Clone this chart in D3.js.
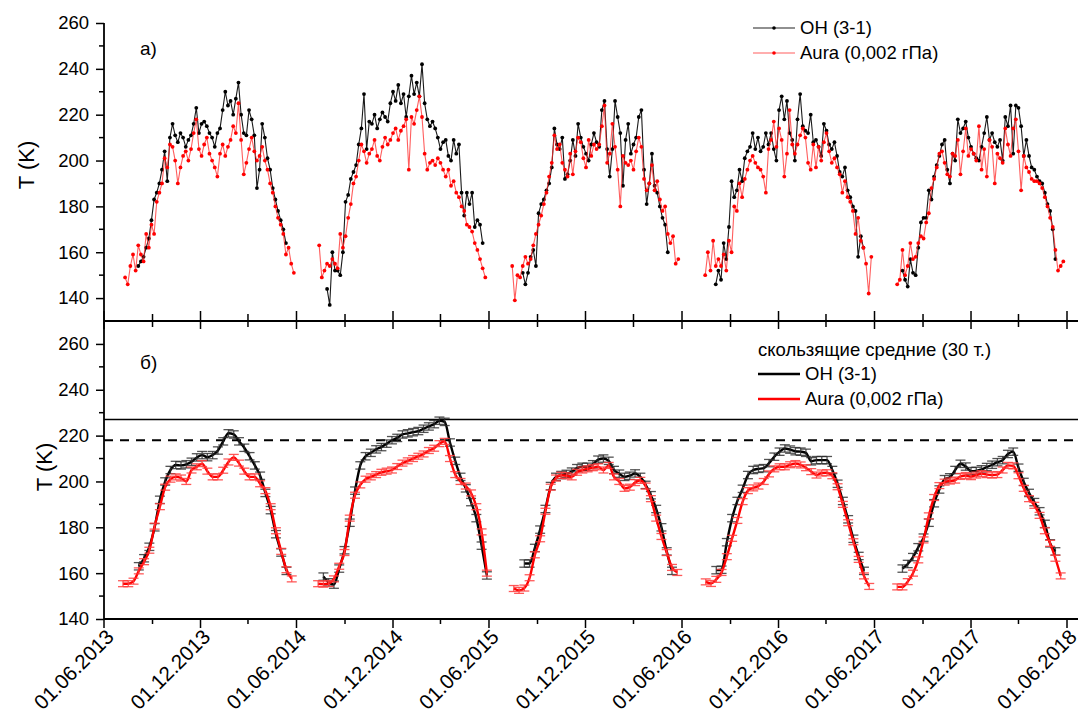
<!DOCTYPE html>
<html>
<head>
<meta charset="utf-8">
<script src="https://cdn.jsdelivr.net/npm/d3@7.9.0/dist/d3.min.js"></script>
<style>
  body { margin: 0; background: #fff; }
  text { font-family: "Liberation Sans", Arial, sans-serif; fill: #000; }
</style>
</head>
<body>
<svg id="chart" width="1080" height="713"></svg>
<script>
// x axis labels (dd.mm.yyyy)
const majorTickLabels = ["01.06.2013", "01.12.2013", "01.06.2014", "01.12.2014", "01.06.2015",
    "01.12.2015", "01.06.2016", "01.12.2016", "01.06.2017", "01.12.2017", "01.06.2018"];
const yTicks = [140, 160, 180, 200, 220, 240, 260];

// panel a): daily series sampled every 5 days, one array per season
const stepA = 5;
const seasonStartA = ["2013-07-11", "2014-07-14", "2015-07-15", "2016-07-15", "2017-07-14"];
const ohA1 = [null, null, null, null, null, 154, 156, 158, 162, 166, 174, 183, 186, 190, 196, 204, 191, 210, 216, 211,
    208, 212, 210, 206, 209, 211, 216, 223, 212, 216, 217, 215, 212, 210, 206, 212, 214, 222, 230, 224,
    226, 220, 227, 234, 220, 212, 211, 222, 218, 211, 188, 196, 216, 210, 201, 196, 188, 183, 178, 174,
    170, 164, null, null, null];
const auraA1 = [149, 146, 154, 159, 152, 163, 159, 156, 168, 162, 172, 168, 182, 186, 190, 201, 197, 207, 206, 200,
    190, 197, 202, 204, 200, 205, 212, 218, 205, 202, 207, 210, 203, 200, 197, 193, 203, 207, 202, 206,
    209, 215, 212, 225, 209, 194, 199, 205, 210, 204, 200, 202, 206, 200, 196, 190, 186, 180, 175, 172,
    168, 159, 162, 155, 151];
const ohA2 = [null, null, null, 144, 137, 160, 152, 152, 150, 160, 182, 185, 192, 195, 198, 207, 214, 229, 205, 217,
    216, 220, 214, 218, 221, 219, 217, 225, 230, 226, 233, 225, 229, 219, 228, 237, 229, 234, 228, 242,
    225, 218, 215, 217, 214, 210, 205, 208, 209, 202, 200, 209, 203, 207, 186, 176, 186, 181, 186, 171,
    174, 172, 164, null];
const auraA2 = [163, 149, 152, 155, 154, 157, 155, 153, 168, 162, 167, 175, 181, 190, 193, 200, 207, 204, 199, 203,
    205, 209, 202, 200, 206, 210, 207, 209, 212, 214, 209, 213, 215, 218, 196, 219, 216, 222, 228, 219,
    203, 196, 199, 200, 198, 201, 199, 196, 193, 196, 189, 191, 186, 184, 180, 178, 172, 171, 169, 164,
    161, 157, 153, 149];
const ohA3 = [null, null, null, null, 151, 146, 151, 158, 161, 154, 177, 181, 183, 187, 190, 197, 214, 207, 205, 210,
    192, 194, 200, 209, 202, 216, 210, 206, 203, 200, 207, 212, 208, 206, 222, 226, 205, 193, 205, 226,
    219, 212, 189, 209, 216, 203, 207, 210, 219, 222, 196, 181, 190, 203, 189, 186, 180, 175, 172, 160,
    null, null, null, null];
const auraA3 = [154, 139, 150, 149, 154, 158, 155, 157, 163, 168, 172, 176, 181, 186, 193, 199, 211, 205, 207, 199,
    196, 193, 203, 194, 204, 210, 208, 201, 197, 209, 202, 207, 205, 207, 215, 224, 199, 203, 216, 206,
    196, 180, 202, 199, 198, 200, 196, 204, 210, 206, 192, 187, 190, 198, 187, 191, 183, 178, 180, 168,
    164, 167, 155, 157];
const ohA4 = [null, null, null, null, 146, 152, 148, 164, 157, 171, 191, 184, 187, 196, 191, 201, 204, 206, 212, 205,
    210, 204, 206, 212, 207, 212, 205, 200, 222, 228, 218, 226, 212, 209, 200, 218, 229, 215, 213, 212,
    220, 208, 209, 206, 202, 216, 213, 207, 205, 208, 202, 195, 193, 197, 187, 184, 180, 178, 158, 167,
    162, null, null, null];
const auraA4 = [150, 160, 152, 165, 154, 157, 154, 159, 152, 165, 160, 180, 178, 190, 184, 192, 196, 200, 202, 199,
    197, 196, 193, 186, 205, 209, 217, 206, 214, 209, 193, 203, 222, 207, 203, 207, 211, 214, 210, 199,
    196, 207, 197, 206, 200, 208, 212, 204, 199, 201, 197, 194, 186, 191, 184, 182, 178, 168, 175, 165,
    162, 155, 142, 158];
const ohA5 = [null, null, 152, 148, 145, 157, 151, 150, 162, 173, 175, 175, 187, 183, 193, 198, 202, 207, 209, 196,
    190, 203, 200, 218, 212, 214, 217, 210, 206, 203, 201, 200, 206, 212, 219, 209, 212, 208, 206, 209,
    200, 219, 215, 224, 203, 224, 223, 215, 202, 209, 202, 197, 196, 193, 191, 190, 186, 181, 178, 170,
    157, null, null, null];
const auraA5 = [146, 148, 161, 150, 154, 164, 157, 158, 164, 167, 166, 173, 177, 188, 192, 197, 203, 204, 199, 194,
    193, 203, 202, 209, 194, 204, 214, 202, 205, 203, 200, 215, 196, 205, 193, 209, 206, 190, 203, 201,
    199, 214, 207, 202, 214, 218, 204, 187, 202, 197, 195, 192, 191, 191, 190, 188, 184, 180, 175, 171,
    161, 152, 154, 156];

// panel б): 30-point running means, every 10 days
const stepB = 10;
const seasonStartB = ["2013-07-07", "2014-07-12", "2015-07-18", "2016-07-16", "2017-07-14"];
const ohB1 = [null, null, null, 163, 166.5, 171.5, 180, 192, 200, 205, 207.2, 207, 207.5, 208.6, 210.5, 211.5, 210.6,
    211.5, 213.5, 217.5, 221, 220.5, 217.5, 214.7, 211, 207, 202.5, 195, 187.5, 177, 169, 161, null];
const auraB1 = [155.4, 155.4, 156.5, 161, 165, 170, 180.5, 189, 197.5, 201, 202, 201.5, 200, 205, 206.4, 207.8, 204.5,
    202, 202, 204.9, 208.5, 210.5, 208, 204.5, 202, 202, 199, 196, 189, 178.5, 169.5, 161.5, 157.5];
const ohB2 = [null, 158.5, 156, 155, 162, 170, 182, 196, 207, 211, 212.5, 214, 215, 216.5, 218, 219, 220.5,
    221, 221.5, 222, 223, 224, 225, 226.5, 226, 217, 209, 202, 197, 191, 184, 172, 159];
const auraB2 = [155.4, 155.2, 155.5, 157.5, 163, 169, 184, 194, 198.5, 201, 202, 203, 204, 204.5, 205, 206.5, 208,
    209, 210, 211, 212, 213.5, 214.5, 216.5, 217.5, 210, 203, 200, 198, 195, 189, 178, 160];
const ohB3 = [null, null, 164.2, 164.2, 171, 179, 188, 198, 202, 202.8, 203.3, 204.3, 205.8, 206.4, 206.4, 207.5,
    209.5, 210, 209, 205, 203.4, 202, 202.5, 203.5, 202, 198.5, 194, 188, 180, 169.5, 161, null];
const auraB3 = [153.3, 152.5, 153.5, 158, 168, 175, 187, 197.5, 201.5, 202.7, 202.5, 202, 204, 205, 205.5, 206,
    206.4, 205, 207, 202, 200, 197, 197.5, 199.5, 200.5, 198, 192.5, 184, 176, 169, 162.5, 160.3];
const ohB4 = [null, null, 161.3, 161.5, 173.5, 184, 191.5, 196.8, 202.8, 205, 205.5, 205.8, 208, 210.8, 213, 214.4,
    213.9, 213.2, 213, 212.5, 208.8, 209.3, 209.3, 209.3, 205, 199, 191.5, 183.5, 175, 167.5, 161, null];
const auraB4 = [156.2, 155.5, 157.3, 160.3, 167.2, 175.2, 183, 191.2, 196, 197.2, 198, 200, 203.3, 205.5, 206.4,
    206.4, 207.3, 207.8, 207.2, 206, 204.3, 202.8, 203.7, 203.8, 202.5, 197.7, 190, 182, 173.7, 166, 158.8, 154.2];
const ohB5 = [null, 162, 164, 167, 171.3, 175.5, 182, 190.5, 196.5, 201, 201.8, 205, 207.7, 206.5, 204.5, 204.6,
    205.3, 206.3, 207.3, 208.4, 209.3, 212, 213, 206, 199.8, 195, 191, 187, 181.5, 173, 169.5, null];
const auraB5 = [154, 154, 156.3, 160, 165.8, 174.5, 185, 193, 198.2, 199.7, 200.2, 200.6, 202.2, 202.6, 202.1,
    202.8, 203.4, 203, 202.8, 203, 205, 207, 206.8, 202.5, 197, 192.5, 189.6, 185.2, 178.5, 173, 166.5, 158.8];
const ohErr = 1.6;
const auraErr = 1.3;

// reference levels in panel б)
const solidLevel = 227;
const dashedLevel = 218;

const svg = d3.select("#chart");
const parseLabel = d3.utcParse("%d.%m.%Y");
const parseIso = d3.utcParse("%Y-%m-%d");
const majorDates = majorTickLabels.map(parseLabel);

const left = 104, right = 1078;
const x = d3.scaleUtc().domain([majorDates[0], majorDates[majorDates.length - 1]]).range([104, 1067]);
const yTop = d3.scaleLinear().domain([130, 260]).range([321, 23]);
const yBot = d3.scaleLinear().domain([140, 270]).range([619, 321]);

function toPoints(values, start, step) {
    let t0 = parseIso(start);
    return values.map((v, i) => ({ date: d3.utcDay.offset(t0, i * step), v: v }));
}

const seasonsA = [[ohA1, auraA1], [ohA2, auraA2], [ohA3, auraA3], [ohA4, auraA4], [ohA5, auraA5]];
const seasonsB = [[ohB1, auraB1], [ohB2, auraB2], [ohB3, auraB3], [ohB4, auraB4], [ohB5, auraB5]];

// ---- panel a) ----
let gA = svg.append("g");
let lineA = d3.line().defined(d => d.v != null).x(d => x(d.date)).y(d => yTop(d.v));
[0, 1].forEach(k => {
    let lineCol = k === 0 ? "#1a1a1a" : "rgba(255,40,40,0.75)";
    let dotCol = k === 0 ? "#000" : "#ff0000";
    seasonsA.forEach((s, idx) => {
        let pts = toPoints(s[k], seasonStartA[idx], stepA);
        gA.append("path").attr("d", lineA(pts)).attr("fill", "none")
            .attr("stroke", lineCol).attr("stroke-width", 1.1);
        gA.selectAll(null).data(pts.filter(d => d.v != null)).join("circle")
            .attr("cx", d => x(d.date)).attr("cy", d => yTop(d.v))
            .attr("r", 1.9).attr("fill", dotCol);
    });
});

// ---- panel б) ----
let gB = svg.append("g");
gB.append("line").attr("x1", left).attr("x2", right)
    .attr("y1", yBot(solidLevel)).attr("y2", yBot(solidLevel))
    .attr("stroke", "#000").attr("stroke-width", 1.6);
gB.append("line").attr("x1", left).attr("x2", right)
    .attr("y1", yBot(dashedLevel)).attr("y2", yBot(dashedLevel))
    .attr("stroke", "#000").attr("stroke-width", 2).attr("stroke-dasharray", "9,7");

let lineB = d3.line().defined(d => d.v != null).x(d => x(d.date)).y(d => yBot(d.v)).curve(d3.curveMonotoneX);
[0, 1].forEach(k => {
    let col = k === 0 ? "#000" : "#ff0000";
    let barCol = k === 0 ? "rgba(40,40,40,0.8)" : "rgba(255,60,60,0.85)";
    let err = k === 0 ? ohErr : auraErr;
    seasonsB.forEach((s, idx) => {
        let pts = toPoints(s[k], seasonStartB[idx], stepB).filter(d => d.v != null);
        gB.append("path").attr("d", lineB(pts)).attr("fill", "none")
            .attr("stroke", col).attr("stroke-width", 2.4);
        let bars = gB.selectAll(null).data(pts).join("g")
            .attr("stroke", barCol).attr("stroke-width", 1.3);
        bars.append("line")
            .attr("x1", d => x(d.date)).attr("x2", d => x(d.date))
            .attr("y1", d => yBot(d.v - err)).attr("y2", d => yBot(d.v + err));
        [-err, err].forEach(e => {
            bars.append("line")
                .attr("x1", d => x(d.date) - 5).attr("x2", d => x(d.date) + 5)
                .attr("y1", d => yBot(d.v + e)).attr("y2", d => yBot(d.v + e));
        });
    });
});

// ---- axes ----
// quarter ticks starting 1 June (Jun, Sep, Dec, Mar)
const minorDates = d3.range(21).map(i => d3.utcMonth.offset(majorDates[0], 3 * i));
let axisG = svg.append("g").attr("font-size", 18.5);

function hLine(y) {
    axisG.append("line").attr("x1", left).attr("x2", right).attr("y1", y).attr("y2", y)
        .attr("stroke", "#000").attr("stroke-width", 1.8);
}
function xTicks(y, dir, major, minor) {
    axisG.append("g").selectAll("line").data(minorDates).join("line")
        .attr("x1", d => x(d)).attr("x2", d => x(d))
        .attr("y1", y).attr("y2", (d, i) => y + dir * (i % 2 === 0 ? major : minor))
        .attr("stroke", "#000").attr("stroke-width", 1.5);
}
hLine(321);
xTicks(321, -1, 10, 7);
xTicks(321, 1, 8, 6);
hLine(619);
xTicks(619, 1, 9, 5);

axisG.append("g").selectAll("text").data(majorDates).join("text")
    .attr("transform", d => `translate(${x(d) + 1},${628}) rotate(-45)`)
    .attr("text-anchor", "end").attr("dy", "0.7em").attr("font-size", 20.5)
    .text((d, i) => majorTickLabels[i]);

function yAxis(scale) {
    let g = axisG.append("g").attr("transform", `translate(${left},0)`);
    g.call(d3.axisLeft(scale).tickValues(yTicks).tickSize(8).tickPadding(7));
    g.attr("font-size", null).attr("font-family", null);
    g.select(".domain").remove();
    g.selectAll("text").attr("font-size", 18.5);
    g.selectAll("line").attr("stroke-width", 1.5);
    let minors = d3.range(150, 260, 20);
    g.selectAll(".minor").data(minors).join("line").attr("class", "minor")
        .attr("x1", 0).attr("x2", -5).attr("y1", d => scale(d)).attr("y2", d => scale(d))
        .attr("stroke", "#000").attr("stroke-width", 1.5);
    g.append("line").attr("x1", 0).attr("x2", 0)
        .attr("y1", scale.range()[0]).attr("y2", scale.range()[1])
        .attr("stroke", "#000").attr("stroke-width", 1.8);
}
yAxis(yTop);
yAxis(yBot);

// y titles
axisG.append("text").attr("transform", "translate(26,165) rotate(-90)")
    .attr("text-anchor", "middle").attr("dy", "0.35em").attr("font-size", 22).text("T (K)");
axisG.append("text").attr("transform", "translate(44,467) rotate(-90)")
    .attr("text-anchor", "middle").attr("dy", "0.35em").attr("font-size", 22).text("T (K)");

// panel letters
axisG.append("text").attr("x", 140).attr("y", 55).attr("font-size", 19).text("a)");
axisG.append("text").attr("x", 140).attr("y", 369).attr("font-size", 19).text("б)");

// ---- legends ----
let legA = svg.append("g").attr("font-size", 18.5);
[["OH (3-1)", "#222", "#000"], ["Aura (0,002 гПа)", "rgba(255,40,40,0.75)", "#ff0000"]].forEach((d, i) => {
    let y = 28 + i * 25;
    legA.append("line").attr("x1", 753).attr("x2", 795).attr("y1", y).attr("y2", y)
        .attr("stroke", d[1]).attr("stroke-width", 1.2);
    legA.append("circle").attr("cx", 774).attr("cy", y).attr("r", 1.8).attr("fill", d[2]);
    legA.append("text").attr("x", 800).attr("y", y).attr("dy", "0.35em").text(d[0]);
});

let legB = svg.append("g").attr("font-size", 18.5);
legB.append("text").attr("x", 758).attr("y", 350).attr("dy", "0.35em").text("скользящие средние (30 т.)");
[["OH (3-1)", "#000"], ["Aura (0,002 гПа)", "#ff0000"]].forEach((d, i) => {
    let y = 374 + i * 25;
    legB.append("line").attr("x1", 758).attr("x2", 800).attr("y1", y).attr("y2", y)
        .attr("stroke", d[1]).attr("stroke-width", 2.4);
    legB.append("text").attr("x", 805).attr("y", y).attr("dy", "0.35em").text(d[0]);
});
</script>
</body>
</html>
